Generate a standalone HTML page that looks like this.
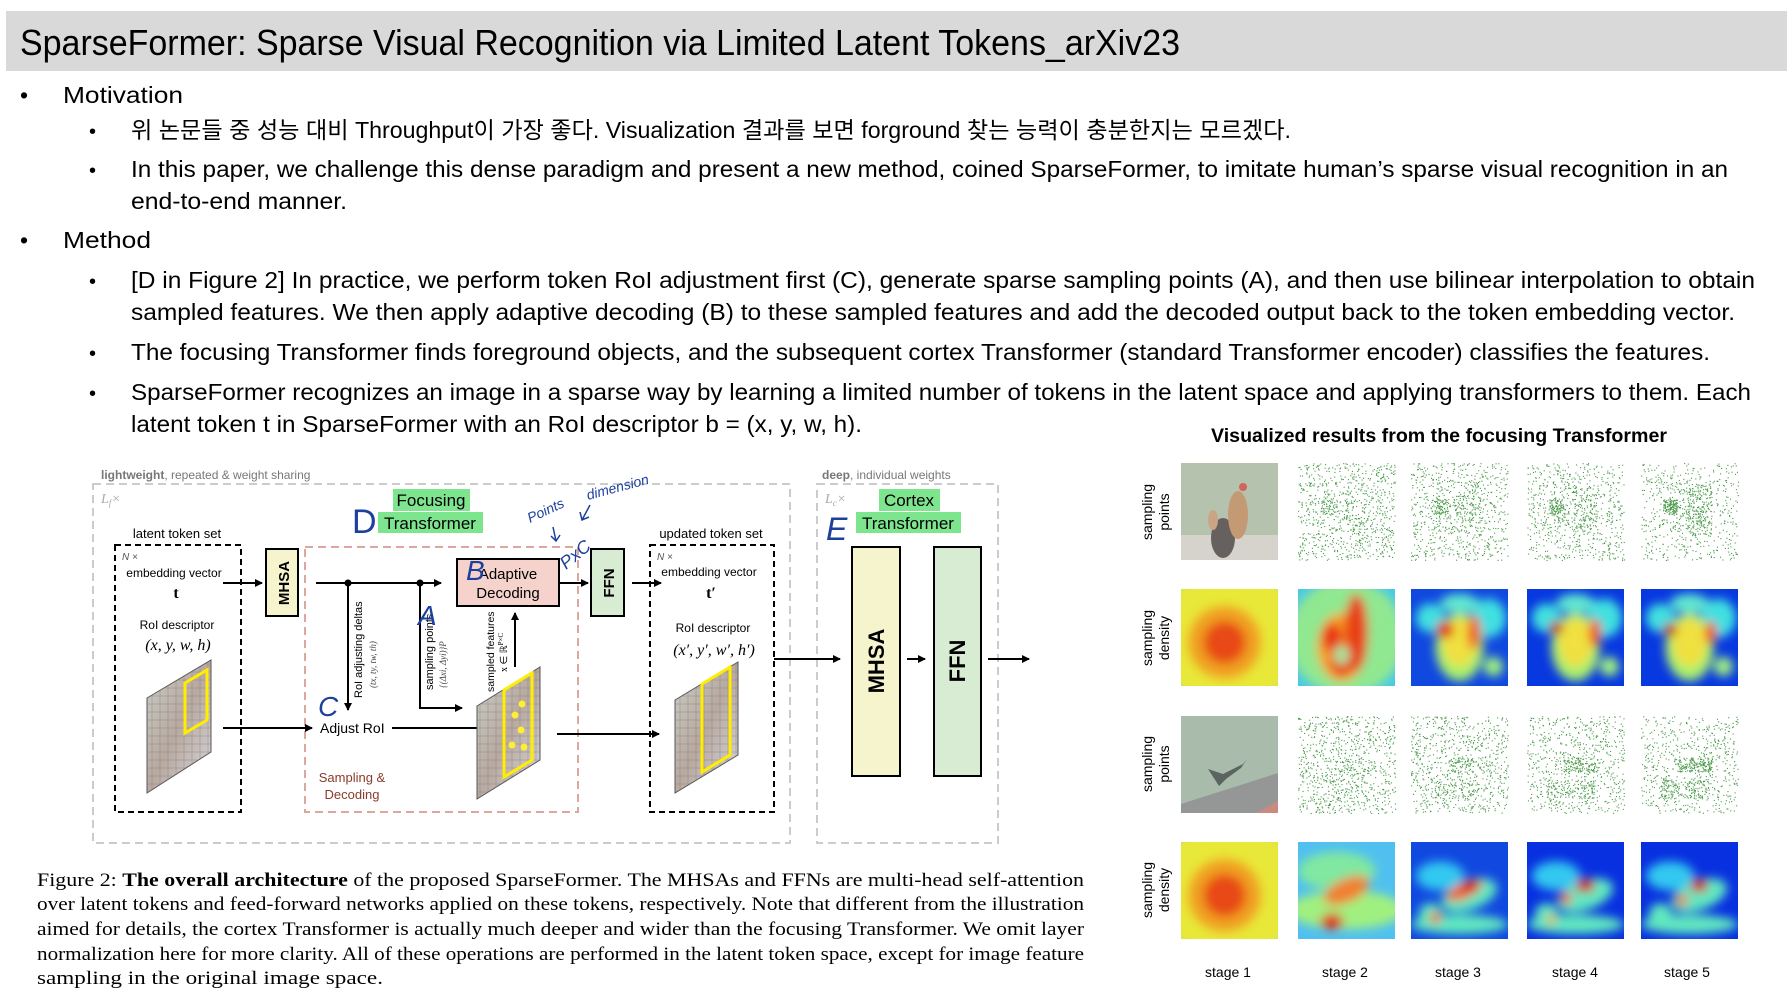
<!DOCTYPE html>
<html><head><meta charset="utf-8">
<style>
html,body{margin:0;padding:0;background:#fff;}
svg{display:block;}
.b{font-family:"Liberation Sans","Noto Sans CJK KR",sans-serif;fill:#000;}
.s{font-family:"Liberation Sans",Arial,sans-serif;}
.t{font-family:"Liberation Serif",serif;fill:#000;font-size:19px;}
.hw{font-family:"Liberation Sans",sans-serif;font-style:italic;fill:#1d3f9e;}
</style></head>
<body>
<svg id="S" width="1787" height="1000" viewBox="0 0 1787 1000" xmlns="http://www.w3.org/2000/svg">
<defs>
<marker id="ar" markerWidth="8" markerHeight="8" refX="7" refY="4" orient="auto" markerUnits="userSpaceOnUse">
<path d="M0,0 L8,4 L0,8 z" fill="#000"/></marker>
<filter id="bl" x="-20%" y="-20%" width="140%" height="140%"><feGaussianBlur stdDeviation="5"/></filter>
<pattern id="gridpat" width="8" height="8" patternUnits="userSpaceOnUse"><rect width="8" height="8" fill="none" stroke="#777" stroke-width="0.6"/></pattern>
<linearGradient id="img" x1="0" y1="0" x2="1" y2="1"><stop offset="0" stop-color="#c9cfc6"/><stop offset="0.5" stop-color="#b9a9a0"/><stop offset="1" stop-color="#d8d8dc"/></linearGradient>
</defs>

<rect x="6" y="11" width="1781" height="60" fill="#d9d9d9"/>
<text class="b" x="20" y="55" font-size="36" textLength="1160" lengthAdjust="spacingAndGlyphs">SparseFormer: Sparse Visual Recognition via Limited Latent Tokens_arXiv23</text>

<g class="b" font-size="23">
<text x="20" y="103">•</text>
<text x="63" y="103" textLength="120" lengthAdjust="spacingAndGlyphs">Motivation</text>
<text x="89" y="138" font-size="20">•</text>
<text x="131" y="138" textLength="1160" lengthAdjust="spacingAndGlyphs">위 논문들 중 성능 대비 Throughput이 가장 좋다. Visualization 결과를 보면 forground 찾는 능력이 충분한지는 모르겠다.</text>
<text x="89" y="177" font-size="20">•</text>
<text x="131" y="177" textLength="1597" lengthAdjust="spacingAndGlyphs">In this paper, we challenge this dense paradigm and present a new method, coined SparseFormer, to imitate human’s sparse visual recognition in an</text>
<text x="131" y="209" textLength="216" lengthAdjust="spacingAndGlyphs">end-to-end manner.</text>
<text x="20" y="248">•</text>
<text x="63" y="248" textLength="88" lengthAdjust="spacingAndGlyphs">Method</text>
<text x="89" y="288" font-size="20">•</text>
<text x="131" y="288" textLength="1624" lengthAdjust="spacingAndGlyphs">[D in Figure 2] In practice, we perform token RoI adjustment first (C), generate sparse sampling points (A), and then use bilinear interpolation to obtain</text>
<text x="131" y="320" textLength="1604" lengthAdjust="spacingAndGlyphs">sampled features. We then apply adaptive decoding (B) to these sampled features and add the decoded output back to the token embedding vector.</text>
<text x="89" y="360" font-size="20">•</text>
<text x="131" y="360" textLength="1579" lengthAdjust="spacingAndGlyphs">The focusing Transformer finds foreground objects, and the subsequent cortex Transformer (standard Transformer encoder) classifies the features.</text>
<text x="89" y="400" font-size="20">•</text>
<text x="131" y="400" textLength="1620" lengthAdjust="spacingAndGlyphs">SparseFormer recognizes an image in a sparse way by learning a limited number of tokens in the latent space and applying transformers to them. Each</text>
<text x="131" y="432" textLength="731" lengthAdjust="spacingAndGlyphs">latent token t in SparseFormer with an RoI descriptor b = (x, y, w, h).</text>
<text x="1211" y="442" font-size="19" font-weight="bold" textLength="456" lengthAdjust="spacingAndGlyphs">Visualized results from the focusing Transformer</text>
</g>

<g class="s">
<text x="101" y="479" font-size="12" fill="#777"><tspan font-weight="bold">lightweight</tspan>, repeated &amp; weight sharing</text>
<text x="822" y="479" font-size="12" fill="#777"><tspan font-weight="bold">deep</tspan>, individual weights</text>
<rect x="93" y="484" width="697" height="359" fill="none" stroke="#ccc" stroke-width="2" stroke-dasharray="8,5"/>
<rect x="817" y="484" width="181" height="359" fill="none" stroke="#ccc" stroke-width="2" stroke-dasharray="8,5"/>
<text x="101" y="503" font-size="14" fill="#aaa" font-family="Liberation Serif" font-style="italic">L<tspan font-size="9" dy="3">f</tspan><tspan dy="-3">×</tspan></text>
<text x="825" y="503" font-size="14" fill="#aaa" font-family="Liberation Serif" font-style="italic">L<tspan font-size="9" dy="3">c</tspan><tspan dy="-3">×</tspan></text>

<rect x="393" y="489" width="77" height="22" fill="#7ee58f"/>
<rect x="378" y="512" width="105" height="21" fill="#7ee58f"/>
<text x="431" y="506" font-size="17" text-anchor="middle">Focusing</text>
<text x="430" y="529" font-size="17" text-anchor="middle">Transformer</text>
<rect x="879" y="489" width="61" height="22" fill="#7ee58f"/>
<rect x="856" y="512" width="105" height="21" fill="#7ee58f"/>
<text x="909" y="506" font-size="17" text-anchor="middle">Cortex</text>
<text x="908" y="529" font-size="17" text-anchor="middle">Transformer</text>

<text x="177" y="538" font-size="13" text-anchor="middle">latent token set</text>
<rect x="115" y="545" width="126" height="267" fill="none" stroke="#000" stroke-width="2" stroke-dasharray="6,4"/>
<text x="122" y="560" font-size="10" fill="#555" font-style="italic">N ×</text>
<text x="174" y="577" font-size="12" text-anchor="middle">embedding vector</text>
<text x="176" y="598" font-size="16" text-anchor="middle" font-family="Liberation Serif" font-weight="bold">t</text>
<text x="177" y="629" font-size="12" text-anchor="middle">RoI descriptor</text>
<text x="178" y="650" font-size="16" text-anchor="middle" font-family="Liberation Serif" font-style="italic">(x, y, w, h)</text>
<g>
<polygon points="147,698 211,660 211,752 147,793" fill="url(#img)" stroke="#555"/>
<polygon points="147,698 211,660 211,752 147,793" fill="url(#gridpat)" opacity="0.6"/>
<polygon points="185,683 207,670 207,720 185,733" fill="none" stroke="#ffee00" stroke-width="3"/>
</g>

<rect x="266" y="549" width="32" height="67" fill="#f6f4cc" stroke="#000" stroke-width="2"/>
<text transform="translate(289,583) rotate(-90)" font-size="15" font-weight="bold" text-anchor="middle">MHSA</text>
<line x1="223" y1="583" x2="262" y2="583" stroke="#000" stroke-width="2" marker-end="url(#ar)"/>

<rect x="305" y="547" width="273" height="265" fill="none" stroke="#dba89e" stroke-width="2" stroke-dasharray="8,5"/>
<line x1="316" y1="583" x2="441" y2="583" stroke="#000" stroke-width="2" marker-end="url(#ar)"/>
<circle cx="348" cy="583" r="3.5"/><circle cx="420" cy="583" r="3.5"/>
<line x1="348" y1="583" x2="348" y2="710" stroke="#000" stroke-width="2" marker-end="url(#ar)"/>
<polyline points="420,583 420,708 462,708" fill="none" stroke="#000" stroke-width="2" marker-end="url(#ar)"/>
<text transform="translate(362,698) rotate(-90)" font-size="11">RoI adjusting deltas</text>
<text transform="translate(376,688) rotate(-90)" font-size="9" fill="#444" font-family="Liberation Serif" font-style="italic">(tx, ty, tw, th)</text>
<text transform="translate(433,690) rotate(-90)" font-size="11">sampling points</text>
<text transform="translate(446,688) rotate(-90)" font-size="9" fill="#444" font-family="Liberation Serif" font-style="italic">{(Δxi, Δyi)}P</text>
<text transform="translate(494,692) rotate(-90)" font-size="10.5">sampled features</text>
<text transform="translate(507,672) rotate(-90)" font-size="10" font-family="Liberation Serif">x ∈ ℝ<tspan font-size="7" dy="-4">P×C</tspan></text>
<rect x="457" y="559" width="102" height="47" fill="#f5d3cc" stroke="#000" stroke-width="2"/>
<text x="508" y="579" font-size="15" text-anchor="middle">Adaptive</text>
<text x="508" y="598" font-size="15" text-anchor="middle">Decoding</text>
<line x1="515" y1="667" x2="515" y2="613" stroke="#000" stroke-width="2" marker-end="url(#ar)"/>
<text x="320" y="733" font-size="14">Adjust RoI</text>
<line x1="223" y1="728" x2="312" y2="728" stroke="#000" stroke-width="2" marker-end="url(#ar)"/>
<line x1="392" y1="728" x2="484" y2="728" stroke="#000" stroke-width="2" marker-end="url(#ar)"/>
<g>
<polygon points="477,706 540,667 540,760 477,799" fill="url(#img)" stroke="#555"/>
<polygon points="477,706 540,667 540,760 477,799" fill="url(#gridpat)" opacity="0.6"/>
<polygon points="504,690 532,673 532,760 504,777" fill="none" stroke="#ffee00" stroke-width="3"/>
<g fill="#ffee33"><circle cx="522" cy="704" r="3.5"/><circle cx="515" cy="715" r="3.5"/><circle cx="521" cy="730" r="3.5"/><circle cx="512" cy="745" r="3.5"/><circle cx="524" cy="747" r="3.5"/></g>
</g>
<text x="352" y="782" font-size="13" fill="#8b3a2a" text-anchor="middle">Sampling &amp;</text>
<text x="352" y="799" font-size="13" fill="#8b3a2a" text-anchor="middle">Decoding</text>
<line x1="557" y1="734" x2="659" y2="734" stroke="#000" stroke-width="2" marker-end="url(#ar)"/>

<rect x="591" y="549" width="33" height="67" fill="#d8ecd4" stroke="#000" stroke-width="2"/>
<text transform="translate(614,583) rotate(-90)" font-size="15" font-weight="bold" text-anchor="middle">FFN</text>
<line x1="560" y1="583" x2="588" y2="583" stroke="#000" stroke-width="2" marker-end="url(#ar)"/>
<line x1="632" y1="583" x2="661" y2="583" stroke="#000" stroke-width="2" marker-end="url(#ar)"/>

<text x="711" y="538" font-size="13" text-anchor="middle">updated token set</text>
<rect x="650" y="545" width="124" height="267" fill="none" stroke="#000" stroke-width="2" stroke-dasharray="6,4"/>
<text x="657" y="560" font-size="10" fill="#555" font-style="italic">N ×</text>
<text x="709" y="576" font-size="12" text-anchor="middle">embedding vector</text>
<text x="711" y="598" font-size="16" text-anchor="middle" font-family="Liberation Serif" font-weight="bold">t′</text>
<text x="713" y="632" font-size="12" text-anchor="middle">RoI descriptor</text>
<text x="714" y="655" font-size="16" text-anchor="middle" font-family="Liberation Serif" font-style="italic">(x′, y′, w′, h′)</text>
<g>
<polygon points="675,700 738,662 738,755 675,793" fill="url(#img)" stroke="#555"/>
<polygon points="675,700 738,662 738,755 675,793" fill="url(#gridpat)" opacity="0.6"/>
<polygon points="702,684 730,667 730,755 702,772" fill="none" stroke="#ffee00" stroke-width="3"/>
</g>
<line x1="774" y1="659" x2="840" y2="659" stroke="#000" stroke-width="2" marker-end="url(#ar)"/>
<rect x="852" y="547" width="48" height="229" fill="#f6f4cc" stroke="#000" stroke-width="2"/>
<text transform="translate(884,661) rotate(-90)" font-size="22" font-weight="bold" text-anchor="middle">MHSA</text>
<line x1="907" y1="659" x2="925" y2="659" stroke="#000" stroke-width="2" marker-end="url(#ar)"/>
<rect x="934" y="547" width="47" height="229" fill="#d8ecd4" stroke="#000" stroke-width="2"/>
<text transform="translate(965,661) rotate(-90)" font-size="22" font-weight="bold" text-anchor="middle">FFN</text>
<line x1="988" y1="659" x2="1029" y2="659" stroke="#000" stroke-width="2" marker-end="url(#ar)"/>
</g>

<g class="hw">
<text x="352" y="533" font-size="34" font-style="normal">D</text>
<text x="826" y="540" font-size="32">E</text>
<text x="318" y="716" font-size="28">C</text>
<text x="418" y="625" font-size="28">A</text>
<text x="466" y="580" font-size="28">B</text>
<text transform="translate(530,523) rotate(-25)" font-size="14">Points</text>
<text transform="translate(588,500) rotate(-15)" font-size="14">dimension</text>
<text transform="translate(566,570) rotate(-40)" font-size="18">PxC</text>
<path d="M553,527 L556,541 M551,536 L556,541 L560,535" stroke="#1d3f9e" stroke-width="1.5" fill="none"/>
<path d="M590,505 L582,520 M580,512 L582,520 L589,517" stroke="#1d3f9e" stroke-width="1.5" fill="none"/>
</g>

<g class="t">
<text x="37" y="886" textLength="1047" lengthAdjust="spacingAndGlyphs">Figure 2:  <tspan font-weight="bold">The overall architecture</tspan> of the proposed SparseFormer.  The MHSAs and FFNs are multi-head self-attention</text>
<text x="37" y="910" textLength="1047" lengthAdjust="spacingAndGlyphs">over latent tokens and feed-forward networks applied on these tokens, respectively. Note that different from the illustration</text>
<text x="37" y="935" textLength="1047" lengthAdjust="spacingAndGlyphs">aimed for details, the cortex Transformer is actually much deeper and wider than the focusing Transformer. We omit layer</text>
<text x="37" y="960" textLength="1047" lengthAdjust="spacingAndGlyphs">normalization here for more clarity. All of these operations are performed in the latent token space, except for image feature</text>
<text x="37" y="984" textLength="346" lengthAdjust="spacingAndGlyphs">sampling in the original image space.</text>
</g>

<g class="s" font-size="14" text-anchor="middle">
<text transform="translate(1152,512) rotate(-90)">sampling</text><text transform="translate(1169,512) rotate(-90)">points</text>
<text transform="translate(1152,638) rotate(-90)">sampling</text><text transform="translate(1169,638) rotate(-90)">density</text>
<text transform="translate(1152,764) rotate(-90)">sampling</text><text transform="translate(1169,764) rotate(-90)">points</text>
<text transform="translate(1152,890) rotate(-90)">sampling</text><text transform="translate(1169,890) rotate(-90)">density</text>
<text x="1228" y="977">stage 1</text><text x="1345" y="977">stage 2</text><text x="1458" y="977">stage 3</text><text x="1575" y="977">stage 4</text><text x="1687" y="977">stage 5</text>
</g>
<g id="vis"></g>
</svg>
<script>
(function(){
var NS="http://www.w3.org/2000/svg",G=document.getElementById("vis");
var cx=[1181,1298,1411,1527,1641],ry=[463,589,716,842],W=97,H=97;
var seed=7;function r(){seed=(seed*16807)%2147483647;return seed/2147483647;}
function el(t,a,p){var e=document.createElementNS(NS,t);for(var k in a)e.setAttribute(k,a[k]);(p||G).appendChild(e);return e;}
function chick(x,y){el("rect",{x:x,y:y,width:W,height:H,fill:"#b4c2ae"});
el("rect",{x:x,y:y+72,width:W,height:25,fill:"#d6d3cc"});
el("ellipse",{cx:x+42,cy:y+75,rx:12,ry:20,fill:"#66605f"});
el("ellipse",{cx:x+57,cy:y+52,rx:10,ry:24,fill:"#c49a74"});
el("circle",{cx:x+62,cy:y+24,r:4,fill:"#d4635a"});
el("ellipse",{cx:x+32,cy:y+57,rx:5,ry:10,fill:"#c9a585"});}
function shark(x,y){el("rect",{x:x,y:y,width:W,height:H,fill:"#a9bcab"});
el("polygon",{points:(x)+","+(y+97)+" "+(x)+","+(y+88)+" "+(x+97)+","+(y+57)+" "+(x+97)+","+(y+97),fill:"#959797"});
el("polygon",{points:(x+75)+","+(y+97)+" "+(x+97)+","+(y+85)+" "+(x+97)+","+(y+97),fill:"#c98a80"});
el("path",{d:"M"+(x+27)+","+(y+53)+" L"+(x+42)+","+(y+58)+" L"+(x+62)+","+(y+48)+" L"+(x+66)+","+(y+43)+" L"+(x+60)+","+(y+52)+" L"+(x+45)+","+(y+63)+" L"+(x+38)+","+(y+70)+" z",fill:"#5a6560"});}
function dots(x,y,foc,n){var g=el("g",{fill:"#4c9a4c"});for(var i=0;i<n;i++){var px=r(),py=r();
if(foc&&r()<foc.w){var f=foc.c[Math.floor(r()*foc.c.length)];px=f[0]+(r()-0.5)*f[2];py=f[1]+(r()-0.5)*f[3];}
if(px<0||px>1||py<0||py>1)continue;el("rect",{x:x+px*W,y:y+py*H,width:1.1,height:1.1},g);}}
function heat(x,y,base,blobs){var cl=el("clipPath",{id:"c"+x+"_"+y});el("rect",{x:x,y:y,width:W,height:H},cl);
var g=el("g",{"clip-path":"url(#c"+x+"_"+y+")"});el("rect",{x:x,y:y,width:W,height:H,fill:base},g);
var gb=el("g",{filter:"url(#bl)"},g);blobs.forEach(function(b){var a={cx:x+b[0]*W,cy:y+b[1]*H,rx:b[2]*W,ry:b[3]*H,fill:b[4]};if(b[5])a.transform="rotate("+b[5]+" "+(x+b[0]*W)+" "+(y+b[1]*H)+")";el("ellipse",a,gb);});}
chick(cx[0],ry[0]);shark(cx[0],ry[2]);
var chF=[[.45,.45,.4,.5],[.6,.5,.25,.5],[.3,.45,.15,.15]],shF=[[.55,.5,.35,.15],[.45,.75,.5,.2]];
for(var s=1;s<5;s++){dots(cx[s],ry[0],{w:s*0.1,c:chF},900);dots(cx[s],ry[2],{w:s*0.08,c:shF},900);}
var s1=[[.5,.5,.75,.75,"#e8e838"],[.45,.55,.38,.38,"#f0a020"],[.45,.55,.22,.22,"#e84818"]];
heat(cx[0],ry[1],"#60d8d0",s1);heat(cx[0],ry[3],"#60d8d0",s1);
heat(cx[1],ry[1],"#48c8e8",[[.5,.5,.6,.6,"#90e890"],[.45,.6,.25,.35,"#f8a020"],[.6,.45,.12,.4,"#e84018"],[.35,.5,.1,.15,"#e83018"],[.45,.75,.12,.15,"#e84018"],[.45,.68,.08,.1,"#a0e8a0"]]);
var c3=[[.2,.3,.15,.15,"#40e0e0"],[.8,.3,.18,.2,"#40e0e0"],[.5,.15,.2,.1,"#60e8d0"],[.85,.8,.1,.1,"#a0f080"],[.5,.6,.25,.35,"#a8f070"],[.5,.55,.18,.25,"#f0e040"]];
heat(cx[2],ry[1],"#1048e0",c3.concat([[.35,.42,.09,.09,"#e02010"],[.65,.45,.07,.18,"#f06020"]]));
heat(cx[3],ry[1],"#0838e0",c3.concat([[.3,.4,.07,.07,"#c01010"],[.7,.45,.06,.15,"#f04020"]]));
heat(cx[4],ry[1],"#0838e0",c3.concat([[.3,.42,.07,.07,"#c01010"],[.72,.45,.06,.12,"#f04020"]]));
heat(cx[1],ry[3],"#50c0f0",[[.4,.3,.4,.2,"#80e8a0"],[.5,.7,.6,.2,"#a0f080"],[.5,.5,.25,.12,"#f08030",-25],[.35,.82,.12,.08,"#e02010"]]);
var c4=[[.3,.35,.25,.15,"#30c8f0"],[.5,.85,.5,.1,"#60e8c0"],[.2,.75,.12,.12,"#60e8c0"],[.6,.55,.3,.15,"#60e8c0",-20]];
heat(cx[2],ry[3],"#1048e0",c4.concat([[.55,.5,.2,.08,"#f06020",-25],[.6,.45,.08,.06,"#d01010"],[.25,.78,.06,.06,"#f06020"]]));
heat(cx[3],ry[3],"#0830e0",c4.concat([[.6,.45,.1,.07,"#d01010"],[.4,.58,.06,.06,"#f04020"],[.25,.8,.05,.05,"#f0a030"]]));
heat(cx[4],ry[3],"#0830e0",c4.concat([[.6,.45,.09,.07,"#d01010"],[.42,.6,.06,.06,"#f06020"]]));
})();
</script>
</body></html>
